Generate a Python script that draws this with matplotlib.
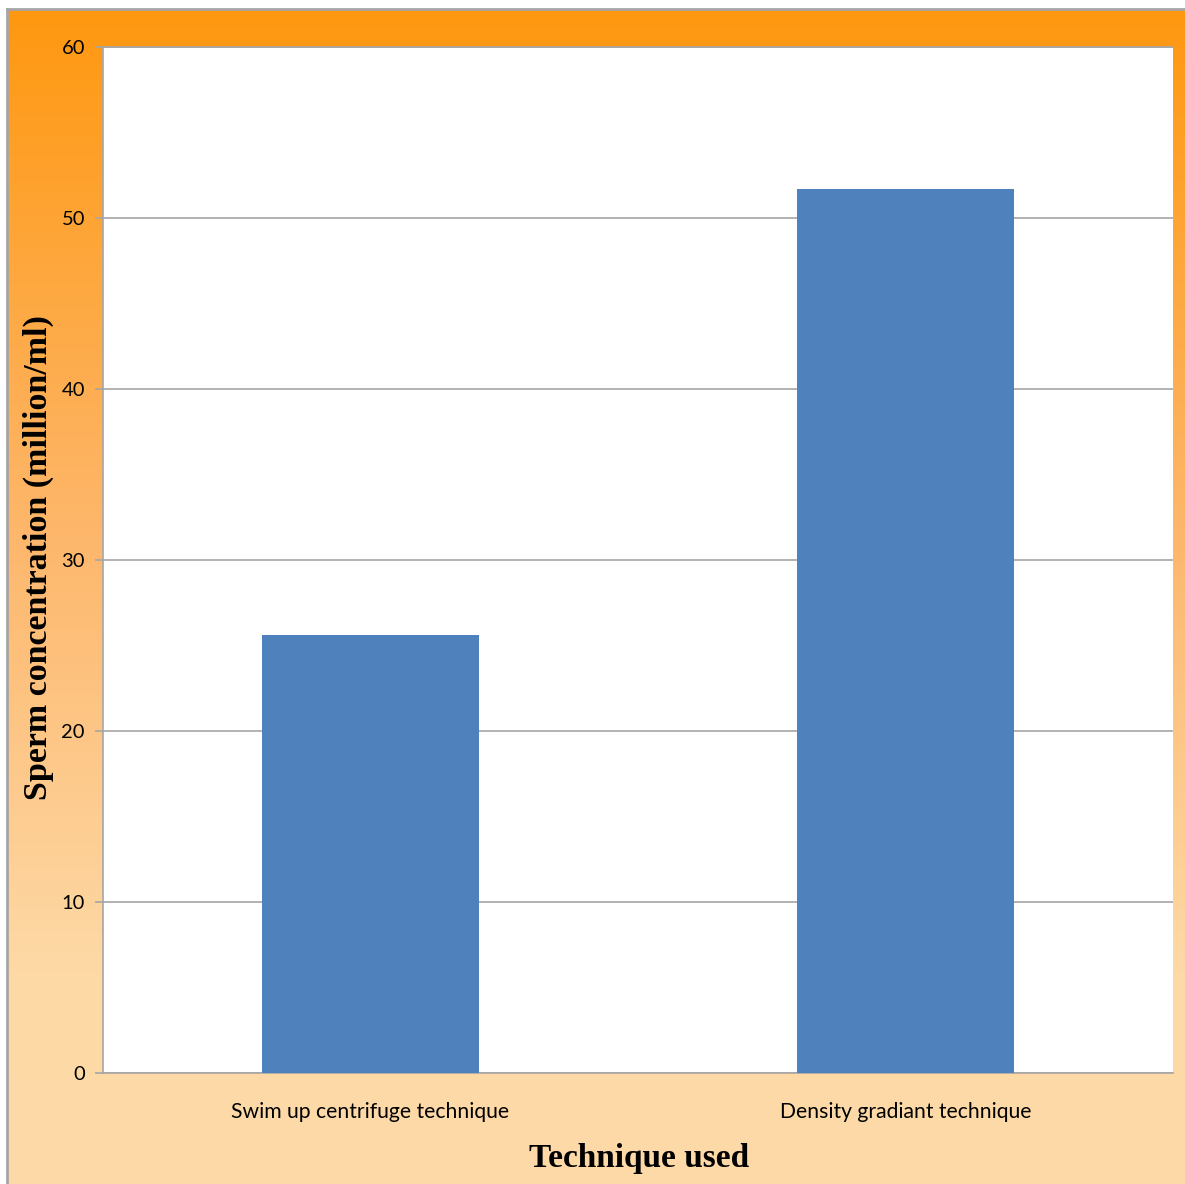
import numpy as np
import matplotlib
matplotlib.use('Agg')
import matplotlib.pyplot as plt
from matplotlib.colors import LinearSegmentedColormap

techniques = ['Swim up centrifuge technique', 'Density gradiant technique']
concentration = [25.6, 51.7]
yticks = [0, 10, 20, 30, 40, 50, 60]

fig = plt.figure(figsize=(11.85, 11.84), dpi=100)
fig.patch.set_facecolor('white')

# orange-to-peach chart area background with a thin grey frame
bg = fig.add_axes([7 / 1185, 0, 1 - 7 / 1185, 1 - 9 / 1184], zorder=0)
grad = LinearSegmentedColormap.from_list(
    'peach', [(0.0, '#ff9810'), (0.45, '#fdb76c'), (0.82, '#fdd9a6'), (1.0, '#fdd9a8')])
bg.imshow(np.linspace(0, 1, 256).reshape(-1, 1), aspect='auto', cmap=grad,
          extent=[0, 1, 0, 1], origin='upper')
bg.set_xlim(0, 1)
bg.set_ylim(0, 1)
bg.set_xticks([])
bg.set_yticks([])
for side in ['right', 'bottom']:
    bg.spines[side].set_visible(False)
for side in ['left', 'top']:
    bg.spines[side].set_color('#a6a6a6')
    bg.spines[side].set_linewidth(2)

ax = fig.add_axes([103 / 1185, 111 / 1184, 1070 / 1185, 1026 / 1184], zorder=1)
ax.set_facecolor('white')
x = np.arange(len(techniques))
ax.bar(x, concentration, width=0.405, color='#4f81bd', zorder=3)

ax.set_xlim(-0.5, 1.5)
ax.set_ylim(0, 60)
ax.set_yticks(yticks)
ax.set_yticklabels([str(v) for v in yticks], fontsize=14.5, family='Lato')
ax.set_xticks(x)
ax.set_xticklabels(techniques, fontsize=15.2, family='Lato')
ax.yaxis.grid(True, color='#a6a6a6', linewidth=1.2, zorder=0)
ax.tick_params(axis='y', length=6, width=1.2, color='#a6a6a6', pad=7)
ax.tick_params(axis='x', length=0, pad=21)

for side in ['left', 'bottom', 'top']:
    ax.spines[side].set_color('#a6a6a6')
    ax.spines[side].set_linewidth(1.2)
ax.spines['right'].set_visible(False)

fig.text(38 / 1185, 1 - 558 / 1184, 'Sperm concentration (million/ml)', rotation=90,
         ha='center', va='center', fontsize=24.5, fontweight='bold',
         family='Liberation Serif')
fig.text(639 / 1185, 1 - 1158 / 1184, 'Technique used', ha='center', va='center',
         fontsize=24, fontweight='bold', family='Liberation Serif')

fig.savefig('out.png', dpi=100)
